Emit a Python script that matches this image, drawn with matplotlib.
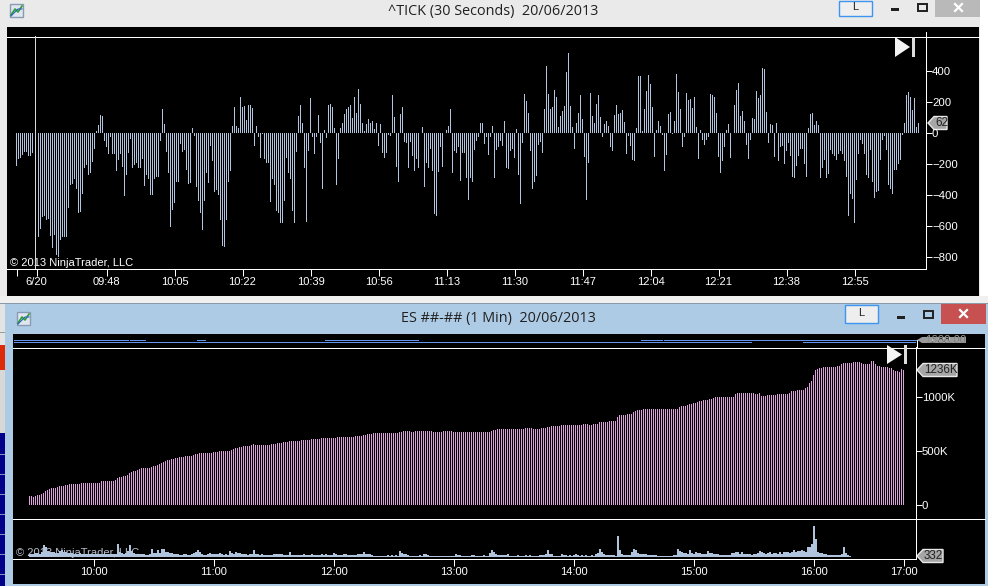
"""
Two NinjaTrader chart windows, ^TICK bars on top, ES cumulative and volume below.
"""

import matplotlib
matplotlib.use('Agg')
import matplotlib.pyplot as plt
from matplotlib.patches import Rectangle, Polygon

plt.rcParams['font.family'] = ['Liberation Sans', 'DejaVu Sans']

# ^TICK, one value per 30 second bar
tick_values = [
    -213, -168, -161, -144, -122, -127, -148, -148, -129, 0, 0, -670, -620, -545, -540, -565, -555, -665, -745, -660,
    -790, -800, -690, -675, -675, -670, -485, -335, -330, -300, -360, -520, -510, -395, -225, -210, -270, -260, -190, -105,
    10, 50, 115, 105, -55, -90, -135, -30, -135, -135, -245, -175, -135, -220, -410, -275, -130, -40, -225, -210,
    -195, -230, -225, -170, -345, -275, -300, -400, -400, -300, -285, -285, -55, 155, 55, -125, -260, -610, -500, -455,
    -315, -320, -70, -122, -110, -240, -330, -325, 30, -20, -350, -440, -520, -630, -440, -260, -325, -85, -180, -380,
    -370, -405, -565, -730, -735, -565, -315, -250, 40, 165, 45, 30, 230, 165, 170, 80, 180, 180, 160, -85,
    45, -30, -160, -10, -170, -195, -195, -450, -300, -335, -505, -520, -585, -580, -440, -160, -260, -300, -505, -580,
    -125, 105, 180, 60, -230, -575, -120, 225, -30, -140, -30, 115, -65, -365, 15, -35, 180,
    185, 165, 30, -340, -170, 30, 65, 120, 150, 165, 180, 95, 230, 125, 285, 185, 65, 10, 55, 90,
    65, 75, 25, 65, -85, 55, -130, -160, -130, -15, -20, 245, 100, -220, -320, 120, 165, -60, -65, -225,
    -60, -150, -250, -170, -225, 0, 35, -350, -195, -225, -105, -245, -525, -540, -255, -90, -220, 0, 15, 40,
    150, -260, -120, -130, -95, -310, -130, -130, -290, -435, -290, -315, -110, -55, -25, 65, 65, -75, -25, -145,
    -25, 40, -290, -110, -95, -55, -85, 75, -225, -235, -120, -105, -160, 25, -275, -460, -65, 250, 205, 125,
    -115, -365, -320, -280, -80, -60, -130, 150, 430, 250, 155, 165, 275, 230, 35, 105, 140, 170, 390, 515,
    170, 35, -105, 60, 130, 240, 90, -155, -435, -195, 255, 105, 60, 185, 240, 100, -25, 55, 75, 40,
    -95, -120, 115, 180, 120, 125, 145, 70, -135, -20, -85, -175, -180, 30, 365, 365, 10, 150, 270, 370,
    315, 165, -155, 15, 75,
    45, -15, -250, -145, 120, 135, -10, 75, 380, 260, 155, -95, -25, 255, 210, 215, 160, 230, 35, -170,
    15, -45, -80, -50, -25, 250, 240, 230, 125, -155, -260, -180, -95, 15, 55, -160, 0, 180, 275, 320,
    105, 140, 75, -80, -170, -50, 95, 90, 270, 225, 245, 415, 410, 135, -65, 55, 50, -155, 60, -180,
    -90, -85, -200, -120, -65, -150, -285, -290, -215, -150, -105, -105, -200, -285, 30, 120, 125, 50, 75, 50,
    -290, -225, -175, -295, -265, -110, -140, -150, -175, -140, -120, -140, -180, -285, -535, -395, -430, -580, -305, -140,
    -50, -70, -135, -275, -290, -110, -320, -420, -385, -375, -175, -45, -20, -110, -340, -365, -395, -240, -240, -200,
    -175, -15, 60, 240, 260, 230, 145, 225, 35, 60,
]
tick_positions = [0, 10, 45, 79, 113, 147, 181, 215, 249, 283, 317, 351, 385, 419]
tick_labels = ['', '6/20', '09:48', '10:05', '10:22', '10:39', '10:56', '11:13',
               '11:30', '11:47', '12:04', '12:21', '12:38', '12:55']
tick_levels = [400, 200, 0, -200, -400, -600, -800]

# ES 1 minute bars, running total in thousands
es_total = [
    83, 83, 75, 83, 90, 93, 102, 114, 133, 139,
    151, 157, 157, 157, 167, 173, 176, 176, 182, 188,
    194, 194, 194, 194, 194, 194, 204, 204, 204, 204,
    204, 204, 204, 204, 204, 204, 219, 219, 219, 219,
    219, 219, 219, 231, 253, 259, 262, 268, 272, 278,
    299, 309, 312, 318, 327, 333, 340, 340, 340, 340,
    340, 352, 358, 364, 373, 383, 392, 401, 410, 414,
    420, 423, 429, 432, 435, 441, 444, 444, 450, 454,
    454, 454, 463, 469, 472, 478, 481, 481, 481, 481,
    481, 481, 488, 491, 491, 500, 500, 500, 500, 500,
    503, 512, 518, 525, 531, 537, 540, 546, 546, 546,
    546, 555, 565, 552, 555, 559, 559, 559, 559, 559,
    559, 562, 565, 565, 571, 574, 577, 580, 583, 583,
    593, 593, 593, 593, 593, 593, 602, 602, 602, 602,
    602, 608, 608, 608, 608, 608, 617, 620, 620, 620,
    620, 617, 617, 617, 629, 629, 629, 629, 629, 629,
    629, 629, 629, 639, 639, 639, 639, 650, 650, 660,
    660, 660, 669, 669, 669, 669, 669, 669, 669, 669,
    669, 669, 669, 669, 669, 679, 679, 688, 688, 688,
    688, 679, 679, 688, 688, 688, 688, 688, 688, 688,
    688, 688, 679, 679, 679, 679, 679, 688, 688, 688,
    688, 688, 679, 679, 679, 679, 679, 679, 679, 679,
    679, 679, 679, 679, 679, 679, 679, 679, 679, 679,
    679, 685, 694, 694, 703, 703, 703, 703, 703, 703,
    703, 703, 703, 703, 703, 703, 703, 703, 713, 713,
    713, 713, 703, 703, 703, 703, 713, 713, 713, 722,
    722, 731, 731, 731, 731, 731, 740, 740, 740, 740,
    740, 740, 740, 740, 740, 740, 740, 750, 750, 750,
    740, 740, 750, 750, 750, 771, 771, 771, 771, 771,
    777, 777, 777, 777, 814, 835, 835, 835, 835, 845,
    845, 845, 861, 873, 877, 877, 877, 889, 889, 889,
    889, 889, 889, 889, 889, 889, 886, 886, 886, 886,
    886, 886, 886, 886, 886, 904, 917, 917, 917, 926,
    935, 938, 948, 948, 957, 963, 963, 969, 969, 975,
    981, 981, 990, 997, 997, 997, 997, 997, 997, 997,
    997, 997, 997, 1025, 1034, 1034, 1034, 1034, 1034, 1034,
    1034, 1034, 1034, 1028, 1028, 1034, 1009, 1012, 1012, 1019,
    1019, 1019, 1019, 1019, 1028, 1028, 1028, 1028, 1028, 1028,
    1037, 1056, 1056, 1056, 1065, 1065, 1065, 1065, 1080, 1096,
    1127, 1148, 1204, 1247, 1259, 1268, 1272, 1281, 1281, 1281,
    1281, 1281, 1281, 1281, 1287, 1290, 1302, 1315, 1315, 1315,
    1315, 1315, 1321, 1321, 1321, 1321, 1312, 1302, 1302, 1302,
    1302, 1333, 1333, 1306, 1290, 1290, 1278, 1278, 1278, 1278,
    1269, 1269, 1247, 1241, 1241, 1236, 1259, 1247,
]

# ES volume per minute, thousands
es_volume = [
    3, 3, 3, 4, 4, 3, 5, 12, 10, 6,
    5, 5, 5, 4, 4, 6, 7, 5, 5, 4,
    4, 4, 3, 3, 3, 4, 3, 3, 3, 3,
    3, 3, 3, 3, 3, 3, 3, 3, 3, 3,
    3, 3, 3, 3, 13, 5, 4, 3, 4, 6,
    12, 6, 4, 3, 3, 3, 3, 3, 2, 2,
    3, 8, 4, 4, 7, 4, 8, 8, 5, 5,
    4, 4, 3, 3, 3, 2, 2, 3, 3, 2,
    2, 3, 4, 5, 7, 5, 3, 2, 2, 3,
    4, 3, 3, 3, 3, 4, 3, 2, 3, 2,
    6, 4, 3, 5, 4, 4, 3, 3, 3, 2,
    3, 3, 7, 3, 3, 2, 3, 2, 2, 2,
    2, 2, 3, 3, 3, 3, 3, 2, 2, 2,
    5, 2, 2, 2, 2, 2, 2, 3, 2, 2,
    2, 3, 2, 2, 2, 2, 3, 2, 3, 2,
    2, 2, 4, 3, 2, 2, 2, 3, 3, 2,
    2, 2, 2, 2, 3, 3, 3, 5.5, 3.5, 3.5,
    3.5, 2, 1.5, 1.5, 1.5, 1.5, 1.5, 1.5, 1.5, 2.5,
    1.5, 2, 1.5, 2, 1.5, 6.5, 4, 3, 3, 2,
    1.5, 1.5, 1.5, 1.5, 1.5, 2.5, 1.5, 3, 3.5, 2.5,
    1.5, 1, 1, 1.5, 1.5, 1.5, 1.5, 1.5, 1.5, 1.5,
    1.5, 1.5, 1.5, 3, 2.5, 2, 1.5, 1, 1, 1,
    1.5, 2, 2, 1.5, 1, 1, 1.5, 2, 1, 1,
    4, 7, 5, 3.5, 2.5, 2.5, 2.5, 2.5, 2.5, 3,
    1.5, 1.5, 1.5, 1.5, 2, 1, 1.5, 1.5, 2, 1,
    2.5, 1.5, 1.5, 1, 1.5, 2, 2, 2, 3, 7.5,
    3, 3, 1.5, 1.5, 1.5, 1.5, 3, 2.5, 2, 1.5,
    2, 1.5, 2.5, 3, 2, 1.5, 2.5, 1.5, 2, 1.5,
    1.5, 2, 1.5, 3.5, 4.5, 8, 5, 3, 2, 2.5,
    2.5, 2, 2.5, 1.5, 21.5, 7.5, 3, 2, 2.5, 2.5,
    2.5, 5, 8, 7, 4, 3.5, 3, 3, 3.5, 2.5,
    2, 2, 2.5, 2, 1.5, 1.5, 1.5, 1.5, 1, 1,
    1.5, 1.5, 2, 2, 8, 6.5, 5, 4, 4, 3,
    7.5, 4, 3, 5, 4.5, 4, 3, 3, 3, 6,
    4, 4, 3, 3, 3, 2.5, 2.5, 2.5, 2.5, 2.5,
    2.5, 4, 4, 5, 5, 3.5, 5, 3.5, 3.5, 3.5,
    3, 2.5, 3.5, 3, 4, 6, 5, 4, 3, 4,
    5, 3, 4, 4, 3, 5, 3, 5, 5, 5,
    4, 5, 7, 5, 6, 6, 7, 6, 5, 10,
    10, 13, 31.5, 18, 5.5, 4, 4, 3, 3, 2.5,
    2, 2, 2.5, 2, 2, 2, 3, 10.5, 4, 2,
    1, 0.5, 0.5, 0.5, 0.5, 0.5, 0.5, 0.5, 0.5, 0.5,
    0.5, 0.5, 0.5, 0.5, 0.5, 0.5, 0.5, 0.5, 0.5, 0.5,
    0.3, 0.3, 0.3, 0.3, 0.3, 0.3, 0.3, 0.3,
]
es_positions = [32, 92, 152, 212, 272, 332, 392, 437]
es_labels = ['10:00', '11:00', '12:00', '13:00', '14:00', '15:00', '16:00', '17:00']
es_levels = [0, 500, 1000]
es_level_labels = ['0', '500K', '1000K']

W, H = 988, 586
TEXT = '#ffffff'
PX = 0.72  # one screen pixel, in points
fig = plt.figure(figsize=(W / 100, H / 100), dpi=100)

# page axes in screen pixels, for the window frames
page = fig.add_axes([0, 0, 1, 1])
page.set_xlim(0, W)
page.set_ylim(H, 0)
page.axis('off')


def box(x0, y0, x1, y1, color, **kw):
    page.add_patch(Rectangle((x0, y0), x1 - x0, y1 - y0, facecolor=color, linewidth=0, **kw))


def frame(x0, y0, x1, y1, edge, fill='none', lw=1):
    page.add_patch(Rectangle((x0, y0), x1 - x0, y1 - y0, facecolor=fill, edgecolor=edge, linewidth=lw))


def panel(x0, y0, x1, y1):
    a = fig.add_axes([x0 / W, 1 - y1 / H, (x1 - x0) / W, (y1 - y0) / H])
    a.set_facecolor('none')
    for s in a.spines.values():
        s.set_visible(False)
        s.set_color('white')
        s.set_linewidth(PX)
    return a


def tag(x, y, w, label):
    # grey price marker on the value axis
    page.add_patch(Polygon([(x, y), (x + 6, y - 6.5), (x + w, y - 6.5), (x + w, y + 6.5), (x + 6, y + 6.5)],
                           facecolor='#a6a6a6', edgecolor='#e8e8e8', linewidth=1, zorder=5))
    page.text(x + 7, y, label, color='#222222', fontsize=8.4, va='center', zorder=6)


def play(x0, x1, bx, y0, y1):
    page.add_patch(Polygon([(x0, y0), (x1, (y0 + y1) / 2), (x0, y1)], facecolor='#f4f4f4', linewidth=0, zorder=5))
    box(bx, y0, bx + 3, y1, '#dddddd', zorder=5)


def icon(x, y):
    frame(x, y, x + 13, y + 13, '#8a9ab5', fill='#dfe6f0')
    page.plot([x + 1, x + 5, x + 8, x + 12], [y + 11, y + 5, y + 8, y + 2], color='#2f9e2f', lw=1.2)
    page.plot([x + 1, x + 5, x + 8, x + 12], [y + 12, y + 8, y + 5, y + 5], color='#2a5fc0', lw=0.8)


# window backgrounds
box(0, 0, W, 297, '#eaeaea')
box(980, 0, W, 297, '#ffffff')
box(7, 27, 979, 296, '#000000')
box(0, 296, W, 304, '#f0f0f0')
box(0, 303, W, 304, '#8c9aa8')

# what shows of the window behind, left of the lower chart
box(0, 304, 5, 586, '#e4e4e4')
box(0, 332, 5, 333, '#9a9a9a')
box(0, 345, 5, 370, '#dd2a08')
box(0, 370, 5, 433, '#d8d8d8')
box(0, 433, 5, 586, '#00008b')
for ly in range(454, 586, 20):
    box(0, ly, 5, ly + 1, '#8890c0')

# lower window
box(5, 304, W, 586, '#aecbe6')
box(13, 334, 985, 584, '#000000')

# title bars
page.text(493, 11.5, '^TICK (30 Seconds)  20/06/2013', color='#202020', fontsize=10.4,
          family=['Open Sans', 'DejaVu Sans'], ha='center', va='center')
page.text(498, 318.5, 'ES ##-## (1 Min)  20/06/2013', color='#202020', fontsize=10.4,
          family=['Open Sans', 'DejaVu Sans'], ha='center', va='center')
icon(10, 4)
icon(17, 312)

# top window buttons
frame(838.5, 0.5, 871.5, 16, '#3d95f0', fill='#efefef')
page.text(855, 7, 'L', color='#202020', fontsize=8, ha='center', va='center')
box(891, 8, 899, 10.5, '#202020')
frame(917.5, 3.5, 926.5, 10.5, '#202020', lw=1.4)
box(935, 0, 980, 17, '#b9b9b9')
page.plot([955, 962], [4, 11], color='white', lw=1.6)
page.plot([955, 962], [11, 4], color='white', lw=1.6)

# lower window buttons
frame(844.5, 304.5, 877.5, 323, '#3d95f0', fill='#eeeeee')
page.text(861, 313, 'L', color='#202020', fontsize=8, ha='center', va='center')
box(897, 316, 905, 318.5, '#202020')
frame(923.5, 311, 932.5, 318, '#202020', lw=1.4)
box(941, 304, 986, 324, '#c75050')
page.plot([960, 967], [310, 317], color='white', lw=1.6)
page.plot([960, 967], [317, 310], color='white', lw=1.6)

# top chart
ax = panel(7, 36, 926, 269)
ax.set_xlim((7 - 16.5) / 2, (926 - 16.5) / 2)
ax.set_ylim((132.7 - 269) / 0.155, (132.7 - 36) / 0.155)
ax.bar(range(len(tick_values)), tick_values, width=0.5, color='#b0c4de', linewidth=0, antialiased=False)
ax.axvline(9, color='#d8d8d8', lw=PX)
ax.spines['bottom'].set_visible(True)
ax.spines['right'].set_visible(True)
ax.yaxis.tick_right()
ax.set_xticks(tick_positions)
ax.set_xticklabels(tick_labels)
ax.set_yticks(tick_levels)
ax.tick_params(axis='x', colors='white', labelcolor=TEXT, labelsize=8, length=5, width=PX, pad=1)
ax.tick_params(axis='y', colors='white', labelcolor=TEXT, labelsize=8.2, length=4.3, width=PX, pad=0)
page.plot([7, 979], [36.5, 36.5], color='white', lw=PX)
page.plot([925.5, 925.5], [32, 36], color='white', lw=PX)
page.text(10, 263, '\u00a9 2013 NinjaTrader, LLC', color=TEXT, fontsize=8, va='center', zorder=4)
tag(928, 123, 19, '62')
play(895, 910, 912, 37, 57)

# lower chart, running total
ax2 = panel(13, 347, 916, 518)
ax2.set_xlim((13 - 29.5) / 2, (916 - 29.5) / 2)
ax2.set_ylim((505 - 518) / 0.108, (505 - 347) / 0.108)
ax2.bar(range(len(es_total)), es_total, width=0.5, color='#dda0dd', linewidth=0, antialiased=False)
ax2.spines['right'].set_visible(True)
ax2.yaxis.tick_right()
ax2.set_xticks([])
ax2.set_yticks(es_levels)
ax2.set_yticklabels(es_level_labels)
ax2.tick_params(axis='y', colors='white', labelcolor=TEXT, labelsize=8.2, length=4.3, width=PX, pad=0)

# lower chart, volume
ax3 = panel(13, 518, 916, 559)
ax3.set_xlim((13 - 29.5) / 2, (916 - 29.5) / 2)
ax3.set_ylim(-2, 39)
ax3.bar(range(len(es_volume)), es_volume, width=1.0, color='#b0c4de', linewidth=0, antialiased=False)
ax3.spines['bottom'].set_visible(True)
ax3.spines['right'].set_visible(True)
ax3.set_yticks([])
ax3.set_xticks(es_positions)
ax3.set_xticklabels(es_labels)
ax3.tick_params(axis='x', colors='white', labelcolor=TEXT, labelsize=8, length=5, width=PX, pad=1)

page.plot([13, 985], [347.5, 347.5], color='white', lw=PX)
page.plot([13, 985], [518.5, 518.5], color='white', lw=PX)
page.plot([916.5, 916.5], [340, 347], color='white', lw=PX)
for x0, x1 in [(14, 129), (130, 146), (197, 206), (325, 419), (641, 663), (664, 917)]:
    box(x0, 340, x1, 341, '#6495ed', zorder=3)
for x0, x1 in [(14, 752), (803, 916)]:
    box(x0, 342, x1, 343, '#6495ed', zorder=3)
page.text(16, 553, '\u00a9 2013 NinjaTrader, LLC', color='#d8e0ee', fontsize=8, va='center', alpha=0.85, zorder=4)

# overlapping price markers at the very top right
page.add_patch(Polygon([(917, 340), (922, 337), (966, 337), (966, 343), (922, 343)],
                       facecolor='#9a9a9a', linewidth=0, zorder=5))
page.text(925, 340, '1588.00', color='#222222', fontsize=8.2, va='center', zorder=6)
page.text(925, 340, '1600.00', color='#eeeeee', fontsize=8.2, va='center', alpha=0.6, zorder=6)
tag(917, 370, 40, '1236K')
tag(917, 556, 26, '332')
play(887, 902, 903.5, 345, 364)

fig.savefig('out.png', dpi=100)
